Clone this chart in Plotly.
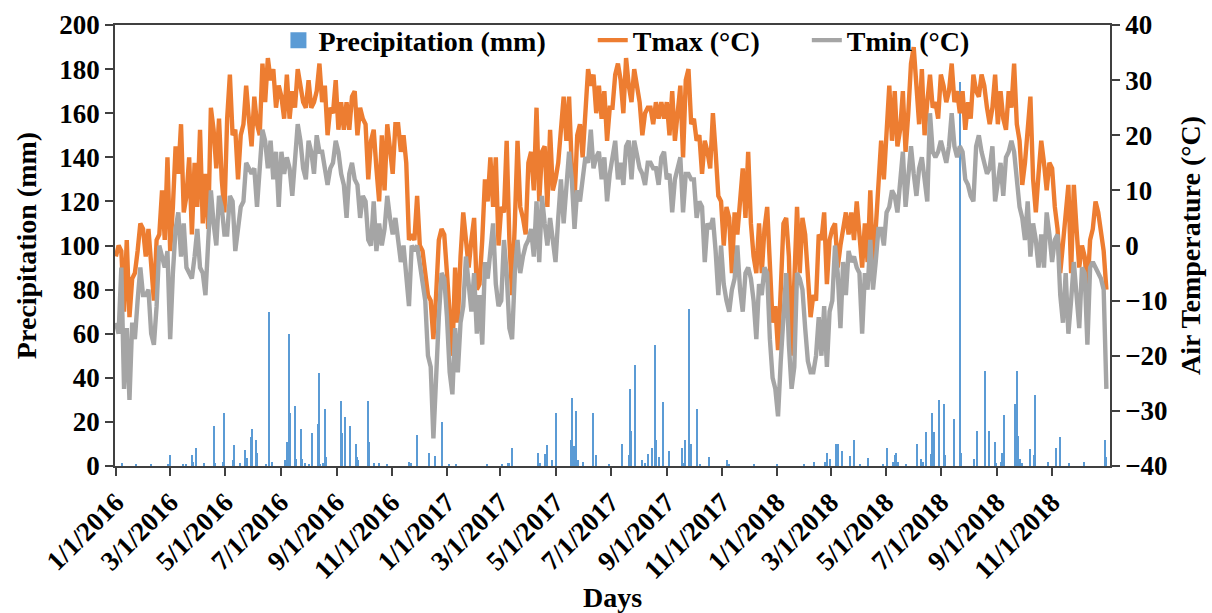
import pandas as pd
import plotly.graph_objects as go

# Daily air temperature, recorded every third day starting 1 Jan 2016 (°C)
tmax_2016 = [-2, 0, -1, -12, 1, -13, -6, -5, -1, 4,
             3, -2, 3, -4, -10, 1, 2, 10, 1, 16,
             -1, 7, 18, 13, 22, 6, 9, 16, 2, 15,
             7, 21, 4, 13, 3, 25, 21, 14, 23, 12,
             6, 23, 31, 20, 21, 12, 20, 22, 29, 23,
             18, 27, 22, 20, 33, 26, 34, 30, 32, 25,
             29, 27, 23, 31, 23, 28, 25, 32, 29, 26,
             25, 30, 25, 26, 28, 33, 26, 29, 20, 25,
             24, 30, 21, 26, 21, 26, 21, 27, 28, 20,
             25, 23, 22, 12, 19, 21, 14, 8, 20, 10,
             22, 17, 13, 22, 22, 17, 20, 15, 1, 2,
             1, 9, 0, -1, -6, -9, -10, -17, -9, 1,
             3, 2]
tmin_2016 = [-14, -16, -4, -26, -15, -28, -14, -17, -10, -4,
             -9, -9, -8, -16, -18, -11, 0, -2, -4, -1,
             -17, -5, 3, 6, -2, 4, -4, -5, -6, -2,
             3, -4, -5, -9, 0, 10, 4, 0, 9, 7,
             2, 2, 9, 8, -1, 4, 7, 8, 15, 14,
             13, 14, 7, 14, 21, 19, 14, 19, 12, 17,
             7, 17, 13, 16, 14, 9, 15, 22, 19, 14,
             12, 19, 17, 13, 20, 17, 17, 14, 11, 14,
             15, 19, 17, 13, 11, 5, 13, 15, 12, 11,
             5, 9, 8, 1, 0, 8, -1, 4, 0, 3,
             9, 5, 2, 5, 0, -3, 0, -5, -11, 0,
             -1, 0, -3, -6, -10, -20, -22, -35, -23, -13,
             -5, -6]

tmax_2017 = [-5, -13, -20, -4, -14, -2, 6, 1, -4, 1,
             5, -8, -7, 1, 12, 8, 16, 7, 16, 0,
             7, 6, 19, 1, -9, 4, 19, 7, 5, 2,
             15, 17, 10, 25, 8, 17, 18, 7, 21, 10,
             12, 15, 20, 27, 19, 27, 14, 8, 20, 22,
             16, 25, 32, 29, 31, 24, 29, 23, 28, 19,
             25, 25, 31, 33, 30, 24, 34, 29, 26, 32,
             29, 26, 20, 24, 25, 25, 22, 26, 23, 26,
             23, 26, 20, 28, 19, 25, 29, 16, 30, 32,
             22, 23, 19, 20, 13, 19, 17, 14, 24, 17,
             9, 8, 0, 7, 5, -5, 6, 2, 8, 14,
             5, 17, 4, -2, -5, 4, -5, 3, 7, -3,
             -14, -11]
tmin_2017 = [-13, -23, -27, -15, -23, -14, -11, -2, -7, -12,
             -5, -16, -9, -18, -3, -6, -1, 4, -7, -11,
             -10, 1, -5, -15, -17, -5, 1, -5, -2, 0,
             1, 3, -2, 8, -3, 9, 4, 0, 5, 1,
             -3, 5, 12, 4, 10, 17, 12, 3, 10, 8,
             12, 16, 15, 21, 14, 16, 17, 12, 16, 8,
             13, 16, 19, 12, 15, 11, 18, 19, 12, 19,
             16, 14, 13, 11, 15, 15, 14, 14, 11, 16,
             17, 12, 13, 6, 12, 14, 16, 6, 13, 13,
             12, 12, 5, 8, 7, -3, 4, 3, 5, -1,
             -9, 0, -7, -10, -12, -8, -6, 0, -8, -12,
             -5, -4, -6, -10, -17, -7, -9, -4, -5, -17,
             -24, -26]

tmax_2018 = [-19, -8, 4, 5, -2, -20, -5, 7, -5, 5,
             2, -5, -13, -9, -10, 2, 1, 6, -7, 1,
             3, 4, -4, 0, 3, 6, 2, 6, 1, 8,
             2, -4, 4, -3, 10, -4, 3, 10, 19, 12,
             21, 29, 19, 28, 18, 21, 28, 17, 24, 33,
             36, 29, 22, 32, 20, 26, 31, 25, 26, 23,
             31, 29, 26, 28, 33, 26, 28, 24, 28, 21,
             26, 23, 31, 28, 27, 31, 29, 25, 22, 25,
             31, 22, 28, 23, 21, 28, 25, 33, 22, 19,
             11, 15, 20, 27, 12, 6, 13, 19, 15, 10,
             15, 14, 7, 3, -5, 1, 6, 11, -5, 11,
             3, -4, 0, -2, -8, 1, 3, 8, 6, 2,
             -1, -8]
tmin_2018 = [-31, -21, -14, -5, -18, -26, -22, -5, -6, -8,
             -15, -21, -23, -23, -20, -13, -20, -11, -22, -12,
             -10, 0, -5, -15, -3, -9, -1, -3, -2, -4,
             -5, -16, -5, -8, 1, -8, -3, 3, 3, 0,
             6, 7, 10, 9, 6, 12, 17, 7, 12, 18,
             13, 9, 14, 16, 12, 8, 24, 17, 16, 17,
             19, 17, 15, 18, 24, 18, 16, 18, 17, 12,
             11, 9, 8, 18, 20, 17, 15, 13, 14, 18,
             8, 12, 15, 9, 16, 17, 19, 17, 12, 7,
             5, 1, 8, -2, 4, 1, -4, 2, -4, 6,
             2, -3, 1, 2, -9, -14, -5, -16, -10, -3,
             -9, -15, -4, -5, -18, -4, -3, -4, -5, -6,
             -8, -26]

# Rain days: day number counted from 1 Jan 2016, and daily total (mm)
precip_day_2016 = [7, 22, 39, 58, 60, 74, 78, 84, 85, 89,
                   97, 109, 110, 118, 119, 120, 130, 131, 137, 143,
                   145, 149, 150, 151, 155, 156, 166, 169, 173, 187,
                   189, 191, 192, 198, 199, 205, 206, 209, 214, 217,
                   223, 225, 226, 229, 231, 232, 249, 250, 253, 259,
                   265, 267, 268, 279, 280, 285, 291, 300, 324, 326,
                   333, 346, 353, 361]
precip_mm_2016 = [1.5, 0.5, 0.5, 0.7, 5, 0.7, 0.7, 5, 2, 8.3,
                  1.2, 18, 1.2, 2, 24, 2.5, 2.5, 9.4, 1.4, 7.3,
                  3.5, 13, 17, 7, 12, 6, 0.7, 70, 1.8, 2.5,
                  11, 60, 24, 27, 3, 17, 3.4, 1.2, 0.7, 15,
                  19, 42, 1, 1.3, 26, 4.2, 29.5, 15, 22, 18,
                  10, 4, 2.5, 29.5, 11, 1.2, 1.2, 0.5, 2, 1.2,
                  14, 6, 4.4, 20]
precip_day_2017 = [368, 376, 410, 427, 434, 435, 438, 467, 469, 474,
                   477, 482, 487, 503, 504, 506, 508, 509, 511, 516,
                   528, 531, 545, 560, 567, 568, 569, 570, 574, 582,
                   585, 588, 593, 596, 597, 600, 605, 612, 626, 627,
                   629, 634, 635, 636, 642, 643, 646, 656, 676, 678,
                   706]
precip_mm_2017 = [0.8, 0.5, 0.8, 0.5, 1.2, 1.2, 8.3, 6, 1.2, 5.3,
                  9.4, 2.7, 24, 12, 31, 9, 6, 25, 2.5, 2,
                  24, 5, 0.5, 10, 5, 35, 16, 12, 46, 2.5,
                  1.2, 5.5, 8, 55, 12, 4, 29, 6.6, 8, 1.2,
                  12, 71, 8, 10, 16, 26, 0.8, 4, 2.7, 0.8,
                  0.8]
precip_day_2018 = [731, 761, 772, 784, 786, 789, 796, 798, 803, 812,
                   816, 823, 832, 848, 853, 859, 861, 863, 865, 874,
                   886, 890, 892, 896, 901, 902, 905, 910, 916, 917,
                   927, 933, 934, 949, 952, 961, 965, 972, 973, 978,
                   980, 982, 994, 996, 997, 1000, 1002, 1011, 1015, 1016,
                   1031, 1039, 1044, 1054, 1070, 1094, 1095]
precip_mm_2018 = [0.8, 0.8, 2, 2, 6, 3, 10, 10, 7, 4.5,
                  12, 0.5, 3.5, 0.8, 8.3, 2, 5, 6, 2, 0.8,
                  10, 3, 2, 15.5, 5.3, 24, 15.5, 30, 28, 5,
                  21.5, 174, 6, 3, 16, 43, 16, 11, 1.2, 2,
                  6, 23, 28, 43, 13.5, 3, 1.2, 7.6, 5, 32,
                  2, 8, 13, 1.2, 2, 12, 4]

tick_dates = ["2016-01-01", "2016-03-01", "2016-05-01", "2016-07-01", "2016-09-01", "2016-11-01",
              "2017-01-01", "2017-03-01", "2017-05-01", "2017-07-01", "2017-09-01", "2017-11-01",
              "2018-01-01", "2018-03-01", "2018-05-01", "2018-07-01", "2018-09-01", "2018-11-01"]
tick_labels = ["1/1/2016", "3/1/2016", "5/1/2016", "7/1/2016", "9/1/2016", "11/1/2016",
               "1/1/2017", "3/1/2017", "5/1/2017", "7/1/2017", "9/1/2017", "11/1/2017",
               "1/1/2018", "3/1/2018", "5/1/2018", "7/1/2018", "9/1/2018", "11/1/2018"]

temp_dates = pd.date_range("2016-01-01", "2018-12-31", freq="3D")
tmax = tmax_2016 + tmax_2017 + tmax_2018
tmin = tmin_2016 + tmin_2017 + tmin_2018

start = pd.Timestamp("2016-01-01")
precip_day = precip_day_2016 + precip_day_2017 + precip_day_2018
precip_mm = precip_mm_2016 + precip_mm_2017 + precip_mm_2018
precip_dates = start + pd.to_timedelta(precip_day, unit="D")

DAY_MS = 86400000
SERIF = "Times New Roman"
FONT = dict(family=SERIF, size=28, color="black", weight="bold")
TICK_FONT = dict(family=SERIF, size=27, color="black", weight="bold")
AXIS_LINE = "#404040"
PAD = "\u00a0" * 6  # breathing room between legend entries

fig = go.Figure()
fig.add_trace(go.Bar(
    x=precip_dates, y=precip_mm, name="Precipitation (mm)",
    marker=dict(color="#5B9BD5", line=dict(width=0)),
    width=1.2 * DAY_MS, yaxis="y", showlegend=False,
))
# legend key for the rainfall bars (a larger square than the default bar key)
fig.add_trace(go.Scatter(
    x=[None], y=[None], name="Precipitation (mm)" + PAD, mode="markers",
    marker=dict(color="#5B9BD5", symbol="square", size=22), yaxis="y",
))
fig.add_trace(go.Scatter(
    x=temp_dates, y=tmax, name="Tmax (°C)" + PAD, mode="lines",
    line=dict(color="#ED7D31", width=4.4), yaxis="y2",
))
fig.add_trace(go.Scatter(
    x=temp_dates, y=tmin, name="Tmin (°C)", mode="lines",
    line=dict(color="#A5A5A5", width=4.4), yaxis="y2",
))

fig.update_layout(
    width=1212, height=613,
    margin=dict(l=115, r=102, t=25, b=147, autoexpand=False),
    paper_bgcolor="white", plot_bgcolor="white",
    font=FONT,
    bargap=0,
    legend=dict(orientation="h", x=0.514, xanchor="center", y=0.965, yanchor="middle",
                bgcolor="rgba(0,0,0,0)", font=FONT, traceorder="normal", itemwidth=30),
    xaxis=dict(
        type="date", range=["2015-12-31", "2019-01-04"], automargin=False,
        tickvals=tick_dates, ticktext=tick_labels, tickangle=-45,
        ticks="outside", ticklen=8, tickwidth=1.5, tickcolor=AXIS_LINE,
        showline=True, linecolor=AXIS_LINE, linewidth=1.5, mirror=True,
        showgrid=False, zeroline=False, tickfont=TICK_FONT,
        title=dict(text="Days", font=FONT, standoff=10),
    ),
    yaxis=dict(
        range=[0, 200], dtick=20, ticks="outside", ticklen=8, tickwidth=1.5,
        tickcolor=AXIS_LINE, showline=True, linecolor=AXIS_LINE, linewidth=1.5,
        showgrid=False, zeroline=False, tickfont=TICK_FONT, automargin=False,
        title=dict(text="Precipitation (mm)", font=FONT, standoff=15),
    ),
    yaxis2=dict(
        range=[-40, 40], dtick=10, overlaying="y", side="right",
        ticks="outside", ticklen=8, tickwidth=1.5, tickcolor=AXIS_LINE,
        showline=True, linecolor=AXIS_LINE, linewidth=1.5, automargin=False,
        showgrid=False, zeroline=False, tickfont=TICK_FONT,
        title=dict(text="Air Temperature (°C)", font=FONT, standoff=14),
    ),
)

fig.write_html("out.html")
